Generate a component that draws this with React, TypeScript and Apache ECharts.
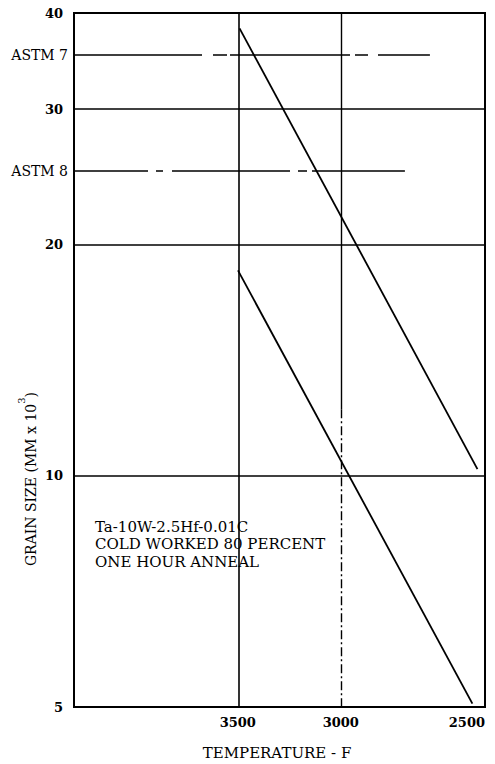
import React, { useEffect, useRef } from "react";
import * as echarts from "echarts";

// ---- data ----
const temperatureTicks = [3500, 3000, 2500]; // deg F, reciprocal scale
const axisTemperatureRange = [4762, 2500]; // left edge, right edge (deg F)
const grainTicks = [5, 10, 20, 30, 40];
const grainRange = [5, 40];
const gridGrain = [10, 20, 30];

const upperTemps = [3490, 2522];
const upperGrain = [38.2, 10.2];
const lowerTemps = [3499, 2537];
const lowerGrain = [18.5, 5.05];

const astmLabels = ["ASTM 7", "ASTM 8"];
const astmGrain = [35.3, 24.9];
const astmEndTemps = [2670, 2755];

const solidVerticalTemp = 3500;
const dashedVerticalTemp = 3000;
const dashedVerticalBreak = 12.2; // grain value where the 3000 F line turns dash-dot

const noteLines = ["Ta-10W-2.5Hf-0.01C", "COLD WORKED 80 PERCENT", "ONE HOUR ANNEAL"];

const toX = (t: number) => 10000 / t;
const FONT = '"DejaVu Serif", "Liberation Serif", serif';

export default function App() {
  const ref = useRef<HTMLDivElement>(null);

  useEffect(() => {
    if (!ref.current) return;
    const chart = echarts.init(ref.current, undefined, { renderer: "svg" });

    const lineBase = { color: "#000", width: 1.6, type: "solid" as const };

    const markLines: any[] = [];
    gridGrain.forEach((g) => {
      markLines.push({ yAxis: g, lineStyle: { ...lineBase }, label: { show: false } });
    });
    markLines.push({ xAxis: toX(solidVerticalTemp), lineStyle: { ...lineBase }, label: { show: false } });
    markLines.push([
      { coord: [toX(dashedVerticalTemp), grainRange[1]], lineStyle: { ...lineBase, width: 1.4 }, label: { show: false } },
      { coord: [toX(dashedVerticalTemp), dashedVerticalBreak] },
    ]);
    markLines.push([
      {
        coord: [toX(dashedVerticalTemp), dashedVerticalBreak],
        lineStyle: { color: "#000", width: 1.4, type: [9, 3, 2, 3] },
        label: { show: false },
      },
      { coord: [toX(dashedVerticalTemp), grainRange[0]] },
    ]);
    const astmDashes = [
      [128, 11, 14, 3, 120, 5, 13, 10, 52],
      [74, 8, 7, 9, 118, 8, 9, 5, 93],
    ];
    astmLabels.forEach((lab, i) => {
      markLines.push([
        {
          coord: [toX(axisTemperatureRange[0]), astmGrain[i]],
          lineStyle: { color: "#000", width: 1.5, type: astmDashes[i] },
          label: {
            show: true,
            position: "start",
            formatter: lab,
            distance: 6,
            color: "#000",
            fontFamily: FONT,
            fontSize: 14,
          },
        },
        { coord: [toX(astmEndTemps[i]), astmGrain[i]] },
      ]);
    });

    const option: any = {
      animation: false,
      backgroundColor: "#fff",
      grid: {
        left: 74,
        right: 10,
        top: 13,
        bottom: 57,
        show: true,
        borderColor: "#000",
        borderWidth: 2,
        backgroundColor: "transparent",
        outerBoundsMode: "none",
        containLabel: false,
      },
      xAxis: {
        type: "value",
        min: toX(axisTemperatureRange[0]),
        max: toX(axisTemperatureRange[1]),
        axisLine: { show: false },
        axisTick: { show: false },
        splitLine: { show: false },
        axisLabel: {
          customValues: temperatureTicks.map(toX),
          formatter: (v: number) => String(Math.round(10000 / v)),
          color: "#000",
          fontFamily: FONT,
          fontSize: 13,
          fontWeight: "bold",
          margin: 9,
          alignMaxLabel: "right",
          showMinLabel: true,
          showMaxLabel: true,
        },
        name: "TEMPERATURE - F",
        nameLocation: "middle",
        nameGap: 38,
        nameTextStyle: { color: "#000", fontFamily: FONT, fontSize: 15, padding: [0, 5, 0, 0] },
      },
      yAxis: {
        type: "log",
        logBase: 10,
        min: grainRange[0],
        max: grainRange[1],
        axisLine: { show: false },
        axisTick: { show: false },
        splitLine: { show: false },
        minorSplitLine: { show: false },
        axisLabel: {
          customValues: grainTicks,
          formatter: (v: number) => String(Math.round(v)),
          color: "#000",
          fontFamily: FONT,
          fontSize: 13,
          fontWeight: "bold",
          margin: 11,
          showMinLabel: true,
          showMaxLabel: true,
        },
      },
      series: [
        {
          type: "line",
          data: upperTemps.map((t, i) => [toX(t), upperGrain[i]]),
          showSymbol: false,
          lineStyle: { color: "#000", width: 1.8 },
          z: 5,
        },
        {
          type: "line",
          data: lowerTemps.map((t, i) => [toX(t), lowerGrain[i]]),
          showSymbol: false,
          lineStyle: { color: "#000", width: 1.8 },
          z: 5,
        },
        {
          type: "line",
          data: [],
          markLine: {
            silent: true,
            symbol: ["none", "none"],
            label: { show: false },
            data: markLines,
          },
        },
      ],
      graphic: [
        {
          type: "text",
          left: 95,
          top: 518,
          style: {
            text: noteLines.join("\n"),
            font: `15px ${FONT}`,
            lineHeight: 17.5,
            fill: "#000",
          },
        },
        {
          type: "text",
          x: 27,
          y: 479,
          rotation: Math.PI / 2,
          style: {
            text: "{a|GRAIN SIZE (MM x 10}{s|3}{a|)}",
            align: "center",
            verticalAlign: "middle",
            rich: {
              a: { fontFamily: FONT, fontSize: 14, fill: "#000", lineHeight: 22, verticalAlign: "bottom" },
              s: { fontFamily: FONT, fontSize: 10, fill: "#000", lineHeight: 12, verticalAlign: "top" },
            },
          },
        },
      ],
    };

    chart.setOption(option);
    return () => chart.dispose();
  }, []);

  return (
    <div
      ref={ref}
      style={{ position: "fixed", left: 0, top: 0, width: 495, height: 764, background: "#fff" }}
    />
  );
}
